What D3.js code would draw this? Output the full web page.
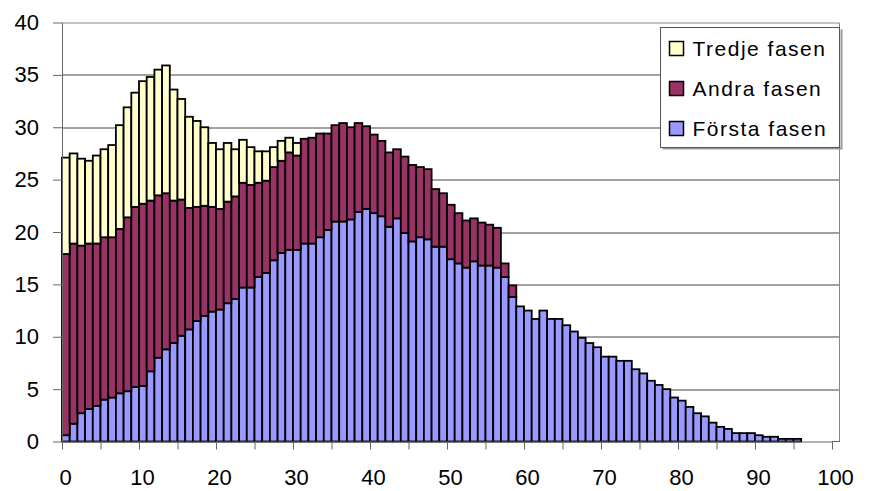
<!DOCTYPE html>
<html lang="sv">
  <head>
    <meta charset="utf-8">
    <title>Faser</title>
    <script src="https://d3js.org/d3.v7.min.js"></script>
    <style>
      body { margin: 0; background: #fff; }
      text { font-family: "Liberation Sans", Arial, sans-serif; }
    </style>
  </head>
  <body>
    <div id="chart"></div>
    <script>
      // values per category 0..95 (segment heights, not cumulative)
      const forsta = [
        0.6, 1.7, 2.7, 3.1, 3.4, 4.0, 4.2, 4.6, 4.8, 5.2,
        5.3, 6.7, 8.0, 8.8, 9.4, 10.1, 10.7, 11.5, 12.0, 12.4,
        12.6, 13.2, 13.6, 14.7, 14.7, 15.7, 16.1, 17.3, 18.0, 18.3,
        18.3, 18.9, 18.9, 19.5, 20.2, 21.0, 21.0, 21.2, 21.9, 22.2,
        21.8, 21.5, 20.5, 21.3, 19.9, 19.1, 19.5, 19.3, 18.6, 18.6,
        17.4, 17.0, 16.6, 17.2, 16.8, 16.8, 16.6, 15.7, 13.8, 12.9,
        12.5, 11.7, 12.5, 11.7, 11.7, 11.1, 10.5, 9.9, 9.4, 9.0,
        8.1, 8.1, 7.7, 7.7, 6.9, 6.5, 5.8, 5.4, 5.0, 4.2,
        3.9, 3.3, 2.7, 2.4, 1.8, 1.4, 1.2, 0.8, 0.8, 0.8,
        0.6, 0.45, 0.45, 0.25, 0.25, 0.25
      ]
      const andra = [
        17.3, 17.2, 16.0, 15.8, 15.5, 15.5, 15.3, 15.7, 16.6, 17.2,
        17.4, 16.3, 15.5, 14.9, 13.6, 13.0, 11.6, 10.9, 10.5, 10.0,
        9.6, 9.7, 9.8, 10.0, 9.8, 9.0, 8.8, 8.9, 8.8, 9.3,
        9.0, 10.0, 10.1, 9.9, 9.2, 9.2, 9.4, 8.8, 8.5, 7.9,
        7.5, 7.2, 7.1, 6.6, 7.3, 7.3, 6.7, 6.7, 5.5, 5.1,
        5.2, 4.8, 4.5, 4.1, 4.1, 3.9, 3.8, 1.3, 1.1
      ]
      const tredje = [
        9.2, 8.6, 8.3, 7.9, 8.4, 8.4, 8.8, 9.9, 10.5, 10.9,
        11.7, 11.8, 12.0, 12.2, 10.6, 9.6, 8.7, 8.2, 7.5, 6.1,
        5.7, 5.6, 4.5, 4.1, 3.6, 3.0, 2.8, 1.9, 1.9, 1.4,
        1.2
      ]
      const serier = ['Första fasen', 'Andra fasen', 'Tredje fasen']
      const farger = ['#9999ff', '#993366', '#ffffcc']
      const yTicks = [0, 5, 10, 15, 20, 25, 30, 35, 40]
      const xTicks = d3.range(0, 101, 5)

      const width = 872, height = 491
      const margin = { left: 62, top: 22.5 }
      const plotW = 778, plotH = 419

      const svg = d3.select('#chart').append('svg')
        .attr('width', width)
        .attr('height', height)

      const g = svg.append('g')
        .attr('transform', `translate(${margin.left}, ${margin.top})`)

      const x = d3.scaleLinear().domain([0, 100]).range([0, 770])
      const y = d3.scaleLinear().domain([0, 40]).range([plotH, 0])

      // gridlines and plot frame
      g.append('g')
        .selectAll('line')
        .data(yTicks.filter(d => d > 0 && d < 40))
        .join('line')
          .attr('x1', 0).attr('x2', plotW)
          .attr('y1', d => Math.round(y(d)) + 0.5)
          .attr('y2', d => Math.round(y(d)) + 0.5)
          .attr('stroke', '#444')
      g.append('path')
        .attr('d', `M0,0.5H${plotW - 0.5}V${plotH}`)
        .attr('fill', 'none')
        .attr('stroke', '#888')

      const rows = forsta.map((f, i) => ({
        i: i,
        'Första fasen': f,
        'Andra fasen': andra[i] || 0,
        'Tredje fasen': tredje[i] || 0
      }))
      const stacked = d3.stack().keys(serier)(rows)

      g.append('g')
        .selectAll('g')
        .data(stacked)
        .join('g')
          .attr('fill', (d, k) => farger[k])
        .selectAll('rect')
        .data(d => d.filter(p => p[1] - p[0] > 0))
        .join('rect')
          .attr('x', d => x(d.data.i))
          .attr('width', x(1) - x(0))
          .attr('y', d => y(d[1]))
          .attr('height', d => y(d[0]) - y(d[1]))
          .attr('stroke', '#000')
          .attr('stroke-width', 1.8)

      // axes
      const yAxis = g.append('g')
        .call(d3.axisLeft(y).tickValues(yTicks).tickSize(9).tickPadding(14).tickSizeOuter(0))
      const xAxis = g.append('g')
        .attr('transform', `translate(0, ${plotH})`)
        .call(d3.axisBottom(x).tickValues(xTicks).tickSize(8).tickPadding(20).tickSizeOuter(0)
          .tickFormat(d => d % 10 === 0 ? d : ''))
      xAxis.append('line')
        .attr('x1', x(100)).attr('x2', plotW)
        .attr('stroke', '#666')
      ;[yAxis, xAxis].forEach(a => {
        a.select('.domain').attr('stroke', '#666')
        a.selectAll('.tick line').attr('stroke', '#666')
        a.selectAll('text')
          .attr('fill', '#000')
          .style('font-size', '22px')
      })
      xAxis.selectAll('text').attr('dx', 3)

      // legend
      const legend = svg.append('g').attr('transform', 'translate(660.5, 27.5)')
      legend.append('path')
        .attr('d', 'M2,121H181V2')
        .attr('fill', 'none')
        .attr('stroke', '#999')
        .attr('stroke-width', 2)
      legend.append('rect')
        .attr('width', 179).attr('height', 120)
        .attr('fill', '#fff')
        .attr('stroke', '#555')

      const items = legend.selectAll('.item')
        .data(serier.slice().reverse())
        .join('g')
          .attr('class', 'item')
          .attr('transform', (d, k) => `translate(9, ${14 + k * 40})`)
      items.append('rect')
        .attr('width', 14).attr('height', 14)
        .attr('fill', d => farger[serier.indexOf(d)])
        .attr('stroke', '#000')
        .attr('stroke-width', 1.5)
      items.append('text')
        .attr('x', 23).attr('y', 14.5)
        .style('font-size', '21px')
        .style('letter-spacing', '1.5px')
        .text(d => d)
    </script>
  </body>
</html>
